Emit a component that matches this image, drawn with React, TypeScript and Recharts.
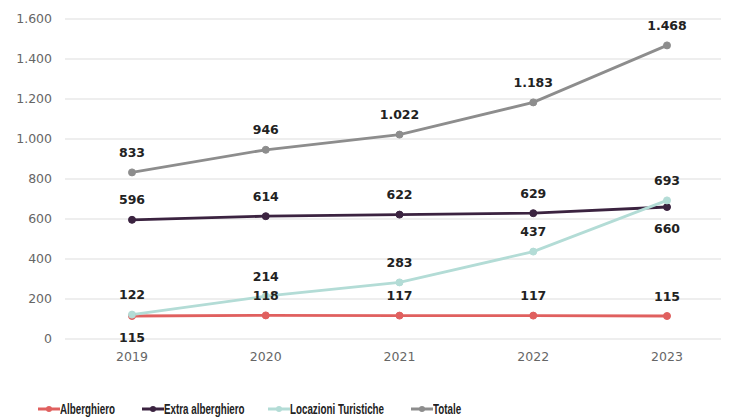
import React from "react";
import { LineChart, Line, XAxis, YAxis, CartesianGrid } from "recharts";

const years = ["2019", "2020", "2021", "2022", "2023"];
const alberghiero = [115, 118, 117, 117, 115];
const extraAlberghiero = [596, 614, 622, 629, 660];
const locazioni = [122, 214, 283, 437, 693];
const totale = [833, 946, 1022, 1183, 1468];
const yTicks = [0, 200, 400, 600, 800, 1000, 1200, 1400, 1600];

// label placement: 1 = above, -1 = below
const albPos = [-1, 1, 1, 1, 1];
const extraPos = [1, 1, 1, 1, -1];
const locPos = [1, 1, 1, 1, 1];
const totPos = [1, 1, 1, 1, 1];

const data = years.map((y, i) => ({
  year: y,
  alb: alberghiero[i],
  extra: extraAlberghiero[i],
  loc: locazioni[i],
  tot: totale[i],
}));

const series = [
  { key: "alb", name: "Alberghiero", color: "#e0605f", pos: albPos, legendX: 38 },
  { key: "extra", name: "Extra alberghiero", color: "#3b2340", pos: extraPos, legendX: 142 },
  { key: "loc", name: "Locazioni Turistiche", color: "#b3dcd6", pos: locPos, legendX: 268 },
  { key: "tot", name: "Totale", color: "#8d8d8d", pos: totPos, legendX: 411 },
];

const fmt = (v: number) => String(v).replace(/\B(?=(\d{3})+(?!\d))/g, ".");

const makeLabel = (pos: number[]) => (props: any) => {
  const { x, y, value, index } = props;
  const p = pos[index];
  const dy = p > 0 ? -19 : 22;
  return (
    <text
      x={x}
      y={y + dy}
      textAnchor="middle"
      dominantBaseline="middle"
      fontFamily="'DejaVu Sans', sans-serif"
      fontWeight={700}
      fontSize={12.5}
      fill="#222"
    >
      {fmt(value)}
    </text>
  );
};

const tickStyle = { fill: "#666", fontSize: 12.5, fontFamily: "'DejaVu Sans', sans-serif" };

export default function App() {
  return (
    <div style={{ position: "relative", margin: "-8px 0 0 -8px", width: 729, height: 418, background: "#fff", overflow: "hidden" }}>
      <LineChart
        width={729}
        height={418}
        data={data}
        margin={{ top: 19, right: -5, bottom: 49, left: 0 }}
      >
        <CartesianGrid vertical={false} stroke="#dedede" strokeWidth={1.2} />
        <XAxis
          dataKey="year"
          axisLine={false}
          tickLine={false}
          height={30}
          tickMargin={7}
          padding={{ left: 67, right: 67 }}
          tick={tickStyle}
        />
        <YAxis
          domain={[0, 1600]}
          ticks={yTicks}
          width={65}
          axisLine={false}
          tickLine={false}
          tickMargin={7}
          tickFormatter={(v: number) => fmt(v)}
          tick={tickStyle}
        />
        {series.map((s) => (
          <Line
            key={s.key}
            type="linear"
            dataKey={s.key}
            name={s.name}
            stroke={s.color}
            strokeWidth={2.8}
            dot={{ r: 3.5, fill: s.color, stroke: s.color, strokeWidth: 1 }}
            activeDot={false}
            isAnimationActive={false}
            label={makeLabel(s.pos)}
          />
        ))}
      </LineChart>
      {series.map((s) => (
        <div
          key={s.key}
          style={{
            position: "absolute",
            left: s.legendX,
            top: 401,
            display: "flex",
            alignItems: "center",
            whiteSpace: "nowrap",
            fontFamily: "'Liberation Sans', Arial, sans-serif",
            fontWeight: 700,
            fontSize: 14,
            color: "#222",
          }}
        >
          <svg width={22} height={10} style={{ display: "block" }}>
            <line x1={0} y1={5} x2={22} y2={5} stroke={s.color} strokeWidth={3} />
            <circle cx={11} cy={5} r={3} fill={s.color} />
          </svg>
          <span style={{ display: "inline-block", transform: "scaleX(0.7)", transformOrigin: "left center" }}>
            {s.name}
          </span>
        </div>
      ))}
    </div>
  );
}
